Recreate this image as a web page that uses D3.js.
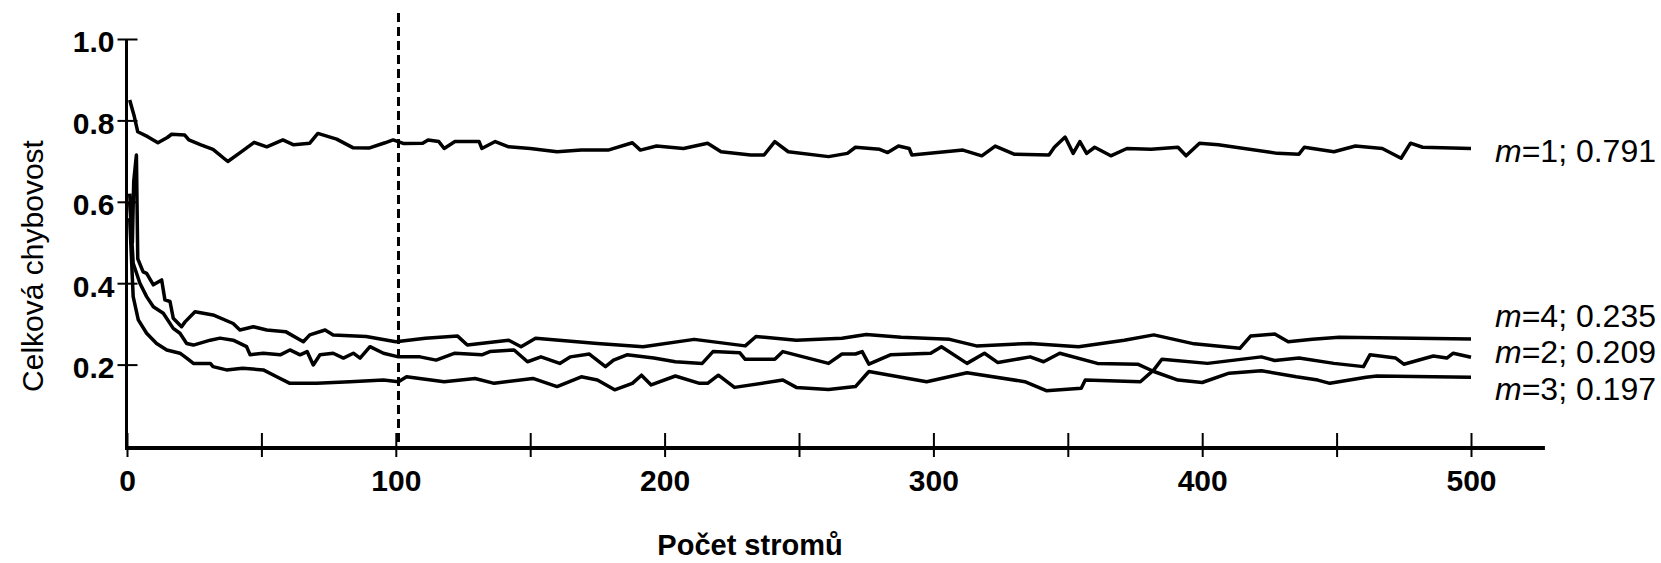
<!DOCTYPE html>
<html>
<head>
<meta charset="utf-8">
<script src="https://cdn.jsdelivr.net/npm/d3@7"></script>
<style>
  html, body { margin: 0; padding: 0; background: #fff; }
  svg { display: block; }
  text { font-family: "Liberation Sans", Arial, Helvetica, sans-serif; fill: #000; }
</style>
</head>
<body>
<svg id="chart" width="1661" height="563"></svg>
<script>
// ---- data (number of trees, total error) ----
const m1 = [[1,.85],[2.7,.81],[4,.772],[7.7,.76],[11.5,.745],[15,.758],[16.6,.766],[21.5,.764],[23,.752],[27.5,.74],[32,.729],[37.5,.699],[43,.725],[47.3,.746],[52,.735],[58,.752],[62,.74],[68,.744],[71,.768],[78,.754],[84,.733],[90,.732],[96,.745],[99,.752],[103,.743],[110,.744],[112,.752],[116,.748],[118,.731],[122,.748],[131,.748],[132,.731],[137,.748],[142,.735],[150,.731],[160,.723],[169,.727],[179,.727],[188,.745],[191,.727],[197,.737],[207,.731],[216,.744],[221,.723],[232,.715],[237,.715],[241,.748],[246,.723],[261,.711],[268,.719],[271,.734],[280,.729],[283,.721],[287,.737],[291,.731],[292,.715],[311,.727],[318,.713],[323,.737],[330,.717],[343,.715],[345,.734],[349,.759],[352,.719],[354.5,.748],[357,.719],[360,.734],[366,.713],[372,.731],[381,.729],[391,.734],[394,.713],[399,.744],[406,.74],[428,.719],[436,.717],[438,.734],[449,.723],[457,.737],[467,.731],[474,.707],[477.5,.744],[482,.734],[500,.731]];

const m4 = [[1,.62],[2,.5],[2.5,.65],[3.5,.715],[4,.46],[6,.428],[7.3,.424],[9.8,.396],[12.9,.408],[14.1,.359],[16,.355],[17.2,.314],[20.3,.293],[21.6,.305],[25.3,.33],[32,.322],[39.5,.301],[42,.285],[47,.293],[52,.285],[59,.281],[65.6,.256],[68,.273],[73.7,.285],[76.7,.273],[89,.269],[100,.256],[111,.265],[123,.27],[126.6,.248],[142,.26],[146.6,.244],[152,.265],[175,.252],[192,.244],[211,.262],[230,.246],[234,.269],[249,.26],[266,.265],[275,.274],[288,.267],[306,.262],[316,.246],[336,.252],[354,.244],[371,.26],[382,.273],[397,.251],[414,.24],[418,.27],[427,.275],[432,.256],[441,.262],[451,.267],[500,.263]];

const m3 = [[1,.6],[2.3,.449],[4.8,.4],[7.3,.367],[9.8,.342],[13.5,.326],[17.2,.289],[19.7,.277],[22.2,.252],[24.7,.248],[31,.26],[34.6,.265],[39.5,.26],[44.5,.244],[45.8,.224],[50.7,.228],[57,.224],[60.6,.236],[64.4,.224],[67,.232],[69.3,.199],[71.8,.224],[76.7,.228],[80.5,.216],[84.2,.228],[86.7,.216],[90.4,.244],[95.4,.228],[101,.219],[109,.219],[115,.211],[122,.228],[132,.224],[135,.232],[144,.236],[149,.207],[154,.219],[161,.203],[165,.219],[172,.226],[178,.195],[181,.211],[186,.224],[196,.216],[204,.207],[214,.203],[218,.232],[228,.229],[230,.213],[241,.213],[244,.232],[261,.203],[266,.226],[271,.226],[273.5,.232],[276,.201],[284,.224],[299,.228],[303,.244],[312.5,.203],[319,.228],[324,.205],[336,.219],[341,.207],[347,.228],[361,.203],[376,.201],[382,.183],[391,.162],[400,.156],[410,.179],[422,.185],[435,.17],[443,.162],[447.5,.154],[461,.169],[465,.172],[500,.169]];

const m2 = [[1,.56],[2.3,.367],[4.2,.31],[7.3,.277],[11,.252],[14.8,.236],[19.7,.228],[22.2,.216],[24.7,.203],[31,.203],[32,.195],[37,.187],[43,.191],[50.7,.187],[55.7,.17],[60.6,.154],[70.6,.154],[83,.158],[95.4,.162],[101,.158],[104,.17],[118,.158],[129.5,.166],[136.6,.154],[151,.166],[160,.146],[169,.17],[175,.162],[181.4,.138],[188,.154],[191.4,.174],[195,.15],[204,.172],[213,.154],[216,.154],[220,.174],[226,.144],[244,.162],[249,.144],[261,.139],[271,.146],[276,.183],[297.5,.158],[312.5,.18],[334,.158],[342,.136],[355,.142],[356.5,.162],[377,.158],[382,.187],[385,.213],[402,.203],[422,.219],[427,.21],[436,.216],[449,.203],[460,.195],[462.4,.224],[472,.216],[475,.201],[486,.221],[491,.216],[493.4,.228],[500,.218]];

const seriesNames = ["m=1", "m=4", "m=2", "m=3"];
const seriesLabelValues = ["0.791", "0.235", "0.209", "0.197"];
const xTicks = [0, 50, 100, 150, 200, 250, 300, 350, 400, 450, 500];
const yTicks = [0.2, 0.4, 0.6, 0.8, 1.0];
const cutoffTrees = 101;
const xTitle = "Počet stromů";
const yTitle = "Celková chybovost";

// ---- drawing ----
const svg = d3.select("#chart");
const x = d3.scaleLinear().domain([0, 500]).range([127, 1471]);
const y = d3.scaleLinear().domain([0, 1]).range([446, 39]);
const axisY = 448;
const axisX = 126.5;

// series lines
const line = d3.line().x(d => x(d[0])).y(d => y(d[1]));
const allSeries = [m1, m4, m2, m3];
svg.append("g").selectAll("path").data(allSeries).join("path")
  .attr("d", line)
  .attr("fill", "none")
  .attr("stroke", "#000")
  .attr("stroke-width", 3.5)
  .attr("stroke-linejoin", "round");

// dashed cut-off line
svg.append("line")
  .attr("x1", x(cutoffTrees)).attr("x2", x(cutoffTrees))
  .attr("y1", 13).attr("y2", axisY)
  .attr("stroke", "#000").attr("stroke-width", 3)
  .attr("stroke-dasharray", "9,5");

// x axis
const gx = svg.append("g").attr("transform", `translate(0,${axisY})`)
  .call(d3.axisBottom(x).tickValues(xTicks).tickSize(9)
    .tickFormat(d => d % 100 === 0 ? d : ""));
gx.select(".domain").remove();
gx.append("line").attr("x1", axisX - 1.5).attr("x2", x(527.5))
  .attr("y1", 0).attr("y2", 0).attr("stroke", "#000").attr("stroke-width", 4);
gx.selectAll(".tick line").attr("y1", -15).attr("y2", 9)
  .attr("stroke", "#000").attr("stroke-width", 2);
gx.selectAll(".tick text").attr("y", 43).attr("dy", null)
  .style("font-size", "30px").style("font-weight", "bold")
  .attr("font-family", null).attr("fill", "#000");

// y axis
const gy = svg.append("g").attr("transform", `translate(${axisX},0)`)
  .call(d3.axisLeft(y).tickValues(yTicks).tickSize(9).tickFormat(d3.format(".1f")));
gy.select(".domain").remove();
gy.append("line").attr("x1", 0).attr("x2", 0)
  .attr("y1", y(1)).attr("y2", axisY + 2)
  .attr("stroke", "#000").attr("stroke-width", 3);
gy.selectAll(".tick line").attr("x1", -9).attr("x2", 11)
  .attr("stroke", "#000").attr("stroke-width", 2);
gy.selectAll(".tick text").attr("x", -12).attr("dy", "0.43em")
  .style("font-size", "30px").style("font-weight", "bold")
  .attr("font-family", null).attr("fill", "#000");

// axis titles
svg.append("text").attr("x", 750).attr("y", 555)
  .attr("text-anchor", "middle")
  .style("font-size", "29px").style("font-weight", "bold")
  .text(xTitle);
svg.append("text").attr("transform", "translate(43,266) rotate(-90)")
  .attr("text-anchor", "middle")
  .style("font-size", "30px")
  .text(yTitle);

// series labels at right
const labelBaselines = [162, 327, 363, 400];
seriesNames.forEach((name, i) => {
  const t = svg.append("text").attr("x", 1495).attr("y", labelBaselines[i])
    .style("font-size", "32px");
  const parts = name.split("=");
  t.append("tspan").style("font-style", "italic").text(parts[0]);
  t.append("tspan").text("=" + parts[1] + "; " + seriesLabelValues[i]);
});
</script>
</body>
</html>
